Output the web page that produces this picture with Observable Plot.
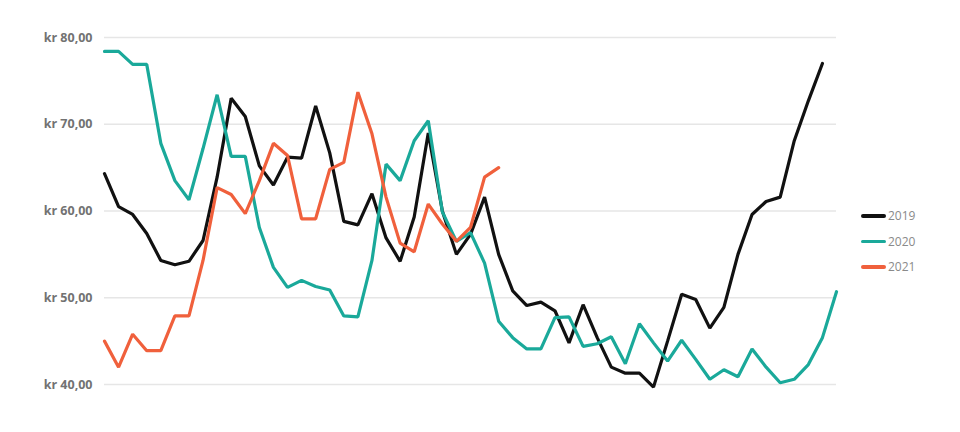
<!DOCTYPE html>
<html>
<head>
<meta charset="utf-8">
<script src="https://cdn.jsdelivr.net/npm/d3@7"></script>
<script src="https://cdn.jsdelivr.net/npm/@observablehq/plot@0.6"></script>
<style>
  html, body { margin: 0; padding: 0; background: #fff; }
  #wrap { position: relative; width: 960px; height: 432px; overflow: hidden; }
  #legend { position: absolute; left: 861px; top: 203px; font-family: "Open Sans", sans-serif; font-size: 12px; color: #8a8a8a; }
  .item { display: flex; align-items: center; height: 25.5px; }
  .sw { width: 25px; height: 3.5px; border-radius: 2px; margin-right: 2px; }
</style>
</head>
<body>
<div id="wrap"></div>
<script>
const years = ["2019", "2020", "2021"];
const colors = ["#111111", "#1aa99a", "#f0603c"];
const yTicks = [40, 50, 60, 70, 80];

const v2019 = [64.3, 60.5, 59.6, 57.4, 54.3, 53.8, 54.2, 56.6, 63.9, 73.0,
  70.9, 65.2, 63.0, 66.2, 66.1, 72.1, 66.7, 58.8, 58.4, 62.0,
  56.9, 54.2, 59.3, 69.0, 60.0, 55.0, 57.3, 61.6, 55.0, 50.8,
  49.1, 49.5, 48.5, 44.8, 49.2, 45.4, 42.0, 41.3, 41.3, 39.7,
  45.0, 50.4, 49.8, 46.5, 48.9, 55.0, 59.6, 61.1, 61.6, 68.1,
  72.7, 77.0];
const v2020 = [78.4, 78.4, 76.9, 76.9, 67.8, 63.5, 61.3, 67.2, 73.4, 66.3,
  66.3, 58.1, 53.5, 51.2, 52.0, 51.3, 50.9, 47.9, 47.8, 54.3,
  65.4, 63.5, 68.1, 70.4, 59.9, 56.5, 57.5, 54.0, 47.3, 45.4,
  44.1, 44.1, 47.7, 47.8, 44.4, 44.7, 45.5, 42.4, 47.0, 44.8,
  42.7, 45.1, 42.9, 40.6, 41.7, 40.9, 44.1, 42.0, 40.2, 40.6,
  42.3, 45.4, 50.7];
const v2021 = [45.0, 42.0, 45.8, 43.9, 43.9, 47.9, 47.9, 54.3, 62.7, 61.9,
  59.7, 63.5, 67.8, 66.4, 59.1, 59.1, 64.8, 65.6, 73.7, 68.9,
  61.6, 56.3, 55.3, 60.8, 58.5, 56.5, 58.1, 63.9, 65.0];

const series = [v2019, v2020, v2021];
const rows = [];
series.forEach((vals, i) => vals.forEach((v, j) => rows.push({week: j + 1, value: v, year: years[i]})));

const fmt = d => "kr " + d.toFixed(2).replace(".", ",");

const chart = Plot.plot({
  width: 960,
  height: 432,
  marginLeft: 104,
  marginRight: 124,
  marginTop: 37,
  marginBottom: 48,
  style: {fontFamily: "'Open Sans', sans-serif", background: "#fff"},
  x: {domain: [1, 53], axis: null},
  y: {domain: [40, 80]},
  color: {domain: years, range: colors},
  marks: [
    Plot.ruleY(yTicks, {stroke: "#e6e6e6", strokeWidth: 1.5}),
    Plot.axisY({ticks: yTicks, tickSize: 0, tickPadding: 12, tickFormat: fmt,
      fontSize: 12.5, fontWeight: "bold", fill: "#727272", label: null}),
    Plot.line(rows, {x: "week", y: "value", z: "year", stroke: "year", strokeWidth: 3.2, strokeLinejoin: "miter"})
  ]
});
const wrap = document.getElementById("wrap");
wrap.appendChild(chart);

const legend = document.createElement("div");
legend.id = "legend";
years.forEach((y, i) => {
  const it = document.createElement("div");
  it.className = "item";
  const sw = document.createElement("div");
  sw.className = "sw";
  sw.style.background = colors[i];
  const t = document.createElement("span");
  t.textContent = y;
  it.appendChild(sw);
  it.appendChild(t);
  legend.appendChild(it);
});
wrap.appendChild(legend);
</script>
</body>
</html>
